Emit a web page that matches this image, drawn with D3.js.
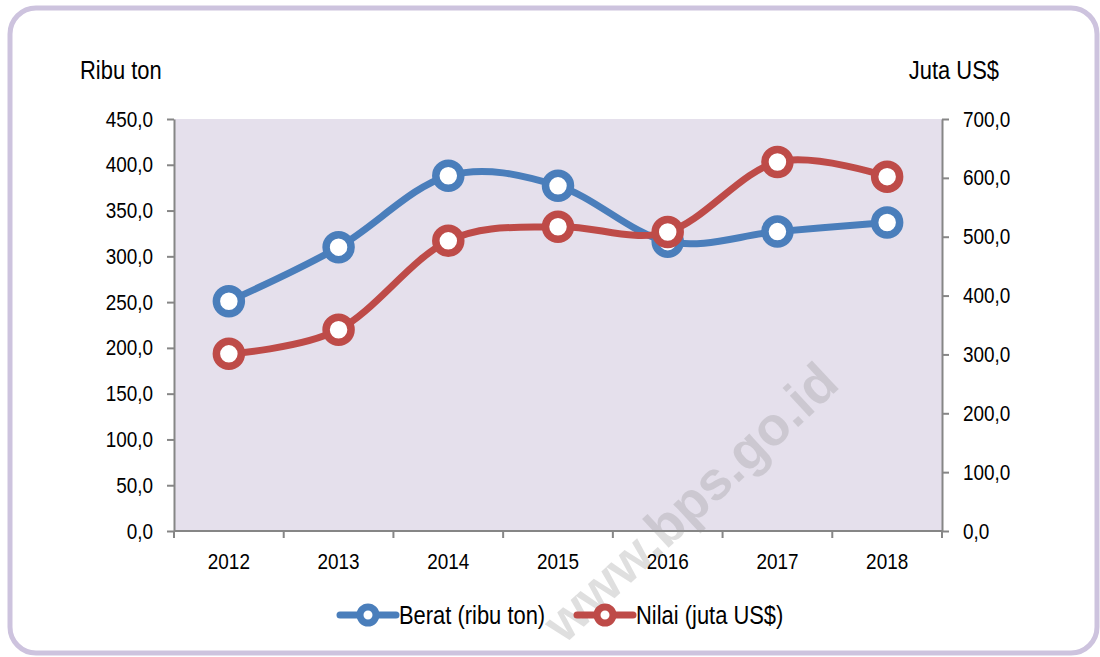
<!DOCTYPE html>
<html>
<head>
<meta charset="utf-8">
<script src="https://cdn.jsdelivr.net/npm/d3@7"></script>
<style>
  body { margin: 0; background: #fff; }
  text { font-family: "Liberation Sans", Arial, sans-serif; fill: #000; }
</style>
</head>
<body>
<svg id="chart" width="1100" height="657"></svg>
<script>
const years = ['2012', '2013', '2014', '2015', '2016', '2017', '2018']
const berat = [251, 310, 388, 377, 316, 327, 337]
const nilai = [301, 342, 493, 517, 508, 627, 602]
const leftTicks = [0, 50, 100, 150, 200, 250, 300, 350, 400, 450]
const rightTicks = [0, 100, 200, 300, 400, 500, 600, 700]

const svg = d3.select('#chart')

const margin = { top: 119, right: 158, bottom: 126, left: 174 }
const width = 1100 - margin.left - margin.right
const height = 657 - margin.top - margin.bottom

const blue = '#4a7ebb'
const red = '#be4b48'
const axisGray = '#868686'
// narrow look (Arial Narrow is not installed): squeeze Liberation Sans horizontally
const sx = 0.86
const fmt = (d) => d3.format('.1f')(d).replace('.', ',')

// outer rounded frame
svg.append('rect')
  .attr('x', 10).attr('y', 8)
  .attr('width', 1087).attr('height', 645)
  .attr('rx', 26)
  .attr('fill', '#fff')
  .attr('stroke', '#cdc3de')
  .attr('stroke-width', 5)

const g = svg.append('g')
  .attr('transform', `translate(${margin.left}, ${margin.top})`)

g.append('rect')
  .attr('width', width).attr('height', height)
  .attr('fill', '#e5e0ec')

const xscale = d3.scaleBand().domain(years).range([0, width])
const yLeft = d3.scaleLinear().domain([0, 450]).range([height, 0])
const yRight = d3.scaleLinear().domain([0, 700]).range([height, 0])

// watermark
svg.append('text')
  .text('www.bps.go.id')
  .attr('transform', 'translate(690, 502) rotate(-43)')
  .attr('text-anchor', 'middle')
  .attr('dy', '0.35em')
  .style('font-weight', 'bold')
  .style('font-size', '54px')
  .style('fill', 'rgba(140, 140, 140, 0.28)')

const styleAxis = (sel) => {
  sel.select('.domain').attr('stroke', axisGray).attr('stroke-width', 2)
  sel.selectAll('.tick line').attr('stroke', axisGray).attr('stroke-width', 2)
  sel.selectAll('.tick text')
    .style('font-size', '22px')
    .each(function () {
      const t = d3.select(this)
      t.attr('x', +t.attr('x') / sx).attr('transform', `scale(${sx},1)`)
    })
}

g.append('g')
  .call(d3.axisLeft(yLeft).tickValues(leftTicks).tickFormat(fmt).tickSize(7).tickSizeOuter(0).tickPadding(14))
  .call(styleAxis)

g.append('g')
  .attr('transform', `translate(${width}, 0)`)
  .call(d3.axisRight(yRight).tickValues(rightTicks).tickFormat(fmt).tickSize(7).tickSizeOuter(0).tickPadding(14))
  .call(styleAxis)

// bottom axis: ticks on category boundaries
const bottom = g.append('g').attr('transform', `translate(0, ${height})`)
bottom.append('line')
  .attr('x1', 0).attr('x2', width)
  .attr('stroke', axisGray).attr('stroke-width', 2)
bottom.selectAll('.btick')
  .data(years.concat(['end']))
  .enter()
  .append('line')
  .attr('x1', (d, i) => i * xscale.step())
  .attr('x2', (d, i) => i * xscale.step())
  .attr('y1', 0).attr('y2', 7)
  .attr('stroke', axisGray).attr('stroke-width', 2)
bottom.selectAll('.blabel')
  .data(years)
  .enter()
  .append('text')
  .text((d) => d)
  .attr('transform', (d) => `translate(${xscale(d) + xscale.bandwidth() / 2}, 38) scale(${sx},1)`)
  .attr('text-anchor', 'middle')
  .style('font-size', '22px')

// axis titles
svg.append('text').text('Ribu ton')
  .attr('transform', `translate(80, 79) scale(${sx},1)`)
  .style('font-size', '25.5px')
svg.append('text').text('Juta US$')
  .attr('transform', `translate(999, 79) scale(${sx},1)`)
  .attr('text-anchor', 'end')
  .style('font-size', '25.5px')

const cx = (d, i) => xscale(years[i]) + xscale.bandwidth() / 2

const drawSeries = (values, yscale, color) => {
  const line = d3.line()
    .x((d, i) => cx(d, i))
    .y((d) => yscale(d))
    .curve(d3.curveCardinal.tension(0))
  g.append('path')
    .datum(values)
    .attr('d', line)
    .attr('fill', 'none')
    .attr('stroke', color)
    .attr('stroke-width', 7)
    .attr('stroke-linecap', 'round')
  g.append('g')
    .selectAll('circle')
    .data(values)
    .enter()
    .append('circle')
    .attr('cx', (d, i) => cx(d, i))
    .attr('cy', (d) => yscale(d))
    .attr('r', 12.5)
    .attr('fill', '#fff')
    .attr('stroke', color)
    .attr('stroke-width', 7.5)
}

drawSeries(berat, yLeft, blue)
drawSeries(nilai, yRight, red)

// legend
const legendItems = [
  { label: 'Berat (ribu ton)', color: blue, x: 340 },
  { label: 'Nilai (juta US$)', color: red, x: 577 }
]
const legend = svg.append('g')
legendItems.forEach((item) => {
  const lg = legend.append('g').attr('transform', `translate(${item.x}, 615)`)
  lg.append('line')
    .attr('x1', 0).attr('x2', 56)
    .attr('stroke', item.color).attr('stroke-width', 7)
    .attr('stroke-linecap', 'round')
  lg.append('circle')
    .attr('cx', 28).attr('r', 8)
    .attr('fill', '#fff')
    .attr('stroke', item.color).attr('stroke-width', 7)
  lg.append('text')
    .text(item.label)
    .attr('transform', `translate(59, 0) scale(${sx},1)`)
    .attr('dy', '0.35em')
    .style('font-size', '25.5px')
})
</script>
</body>
</html>
